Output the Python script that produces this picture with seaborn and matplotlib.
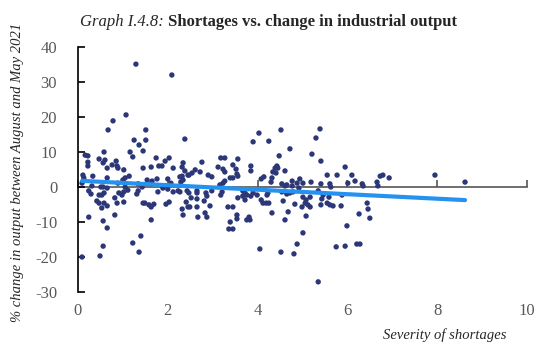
import numpy as np
import pandas as pd
import matplotlib
matplotlib.use("Agg")
import matplotlib.pyplot as plt
import seaborn as sns

# Severity of shortages (x) and % change in output between August and May 2021 (y)
severity = [
    1.29, 2.09, 1.07, 0.78, 0.67, 1.51, 1.25, 1.36, 1.51, 2.38,
    0.58, 1.16, 1.45, 1.22, 0.16, 0.22, 0.47, 0.60, 0.85, 1.74,
    2.03, 1.94, 2.34, 0.22, 0.22, 0.76, 0.65, 0.89, 1.02, 1.45,
    1.63, 1.80, 1.87, 2.12, 2.32, 4.03, 4.52, 3.90, 4.25, 4.72,
    4.48, 2.76, 3.18, 3.27, 3.56, 3.12, 3.45, 3.85, 3.52, 3.23,
    2.61, 4.39, 4.43, 4.45, 5.39, 5.30, 5.21, 5.41, 5.95, 5.55,
    5.77, 6.10, 6.73, 6.79, 6.93, 4.77, 4.94, 5.01, 5.19, 5.41,
    5.61, 5.63, 6.01, 6.17, 6.33, 6.35, 6.66, 6.68, 4.77, 4.92,
    5.35, 5.46, 5.59, 5.88, 4.72, 5.01, 5.08, 5.17, 5.06, 5.12,
    5.43, 4.83, 4.99, 5.17, 5.41, 5.55, 5.61, 5.68, 5.86, 6.44,
    6.46, 6.26, 6.50, 5.08, 5.99, 5.01, 4.88, 5.75, 5.95, 6.21,
    6.28, 4.81, 5.35, 7.95, 8.62, 3.85, 3.27, 2.38, 2.54, 2.47,
    2.72, 2.90, 2.98, 3.54, 3.56, 3.39, 3.45, 3.27, 3.23, 3.16,
    2.32, 4.34, 4.41, 4.61, 4.08, 4.14, 4.30, 4.32, 4.54, 4.61,
    4.65, 4.88, 2.43, 2.47, 2.65, 2.65, 2.85, 2.87, 2.98, 2.27,
    3.21, 3.18, 3.67, 3.72, 3.67, 3.76, 3.90, 3.85, 3.99, 4.23,
    4.21, 4.54, 4.65, 4.79, 2.41, 2.52, 2.65, 2.32, 2.49, 2.65,
    2.34, 2.81, 2.94, 2.67, 2.83, 2.87, 3.34, 3.45, 3.56, 3.72,
    4.08, 4.12, 4.19, 4.25, 4.57, 3.54, 3.54, 3.76, 3.81, 3.83,
    4.32, 4.68, 4.61, 3.39, 3.36, 3.45, 4.05, 4.52, 0.56, 2.45,
    0.11, 0.13, 0.33, 0.65, 1.00, 1.05, 1.14, 1.54, 1.65, 1.76,
    2.00, 2.07, 2.27, 2.34, 0.09, 0.31, 0.51, 0.56, 0.65, 0.89,
    1.05, 1.34, 1.43, 1.63, 1.78, 1.89, 2.00, 2.12, 2.23, 0.24,
    0.29, 0.47, 0.53, 0.58, 0.91, 0.98, 1.02, 1.11, 1.31, 1.34,
    0.82, 0.42, 0.47, 0.58, 0.65, 0.53, 0.87, 1.02, 1.45, 1.49,
    1.58, 1.63, 1.69, 1.96, 2.03, 2.45, 0.24, 0.56, 0.82, 0.65,
    1.63, 1.40, 1.22, 0.56, 1.36, 0.09, 0.49, 0.87, 2.29,
]
output_change = [
    35.1, 32.0, 20.6, 18.9, 16.3, 16.3, 13.4, 12.0, 13.4, 13.7,
    10.0, 10.0, 10.3, 8.6, 9.1, 8.9, 8.0, 7.7, 7.4, 8.3,
    8.3, 7.4, 6.9, 7.1, 6.0, 6.3, 5.4, 5.4, 4.9, 5.4,
    5.7, 6.0, 6.0, 5.4, 5.7, 15.4, 16.3, 12.9, 13.1, 10.9,
    8.9, 7.1, 8.3, 8.3, 8.0, 5.7, 6.3, 6.0, 5.1, 5.1,
    4.9, 5.4, 6.0, 5.4, 16.6, 14.0, 9.4, 7.4, 5.7, 3.4,
    3.4, 3.4, 3.1, 3.4, 2.6, 1.7, 2.3, 1.1, 1.4, 0.9,
    0.9, 0.0, 1.1, 1.7, 0.9, 0.3, 1.4, 0.3, 0.3, -0.3,
    -1.1, -2.3, -2.9, -2.3, -1.7, -2.9, -3.7, -2.9, -4.6, -5.1,
    -3.4, -4.9, -5.7, -5.7, -5.1, -4.6, -5.1, -5.4, -5.4, -4.6,
    -6.3, -7.7, -8.9, -8.3, -11.1, -13.1, -16.3, -17.1, -16.9, -16.3,
    -16.3, -19.1, -27.1, 3.4, 1.4, 4.6, 4.3, 4.6, 4.0, 3.4,
    4.3, 3.4, 2.9, 3.7, 3.1, 2.6, 2.6, 1.7, 1.1, 0.6,
    3.1, 4.3, 4.0, 4.6, 2.3, 2.9, 1.4, 2.6, 0.9, 0.3,
    0.6, 1.1, -1.1, -1.7, -1.1, -1.7, -1.7, -2.6, -1.1, -1.4,
    -1.4, -2.3, -1.1, -1.7, -2.6, -2.3, -1.7, -2.6, -2.3, -1.7,
    -2.3, -1.4, -2.0, -1.4, -4.3, -3.1, -3.4, -6.3, -5.7, -5.7,
    -8.0, -4.0, -5.4, -8.6, -7.4, -8.6, -5.7, -5.7, -3.1, -3.7,
    -3.7, -4.6, -4.6, -4.6, -4.0, -8.0, -9.1, -9.4, -8.6, -9.4,
    -7.4, -7.1, -9.4, -10.0, -12.0, -12.0, -17.7, -18.6, 6.9, 3.4,
    3.4, 2.6, 3.1, 2.6, 2.0, 2.6, 3.1, 2.0, 1.7, 2.3,
    2.3, 1.1, 2.9, 2.0, 1.1, 0.3, 0.0, 0.0, -0.3, 1.1,
    0.0, 0.9, 0.0, 0.9, -1.4, -0.3, -0.6, -1.4, -1.1, -1.1,
    -2.0, -2.3, -2.3, -1.7, -1.7, -2.3, -1.4, -0.9, -2.0, -1.1,
    -3.1, -4.0, -4.6, -4.6, -5.4, -6.0, -4.6, -4.3, -4.6, -4.6,
    -5.1, -5.7, -4.9, -4.9, -4.3, -5.7, -8.6, -9.7, -8.0, -11.7,
    -9.4, -14.0, -16.0, -16.9, -18.6, -20.0, -19.7, 6.0, 1.4,
]

y_ticks = [-30, -20, -10, 0, 10, 20, 30, 40]
x_ticks = [0, 2, 4, 6, 8, 10]

df = pd.DataFrame({"severity": severity, "change": output_change})

sns.set_theme(style="white")
plt.rcParams["font.family"] = ["Liberation Serif", "DejaVu Serif"]
plt.rcParams["axes.unicode_minus"] = False

fig = plt.figure(figsize=(5.42, 3.45), dpi=100)
ax = fig.add_axes([0.1439, 0.1536, 0.8284, 0.7102])

sns.regplot(
    data=df, x="severity", y="change", ax=ax, ci=None,
    scatter_kws=dict(s=15, color="#2c3778", edgecolor="none", alpha=1),
    line_kws=dict(color="#2592f0", lw=3.0),
)

ax.set_xlim(0, 10)
ax.set_ylim(-30, 40)
ax.set_xticks(x_ticks)
ax.set_yticks(y_ticks)
ax.set_xlabel("")
ax.set_ylabel("")

for side in ("top", "right", "bottom"):
    ax.spines[side].set_visible(False)
ax.spines["left"].set_color("black")
ax.spines["left"].set_linewidth(1.2)

ax.tick_params(axis="y", direction="in", length=5, width=1.2, color="black",
               labelsize=12, labelcolor="#595959", pad=15, left=True)
ax.tick_params(axis="x", length=0, labelsize=12, labelcolor="#595959", pad=8,
               bottom=True)

# zero line carrying the x ticks
zero_axis = ax.secondary_xaxis(30 / 70)
zero_axis.set_xticks(x_ticks)
zero_axis.tick_params(direction="in", length=5, width=1.2, color="#555555",
                      labelbottom=False, labeltop=False)
zero_axis.spines["bottom"].set_color("#555555")
zero_axis.spines["bottom"].set_linewidth(1.2)
zero_axis.set_xticklabels([])

fig.text(0.033, 0.50, "% change in output between August and May 2021",
         rotation=90, ha="center", va="center", fontsize=10.5,
         fontstyle="italic")
fig.text(0.82, 0.03, "Severity of shortages", ha="center", va="center",
         fontsize=10.5, fontstyle="italic")

# two-part title (italic label + bold heading), centred as a whole
title_y = 0.925
t1 = fig.text(0, title_y, "Graph I.4.8: ", fontsize=12, fontstyle="italic")
t2 = fig.text(0, title_y, "Shortages vs. change in industrial output",
              fontsize=12, fontweight="bold")
fig.canvas.draw()
renderer = fig.canvas.get_renderer()
w1 = t1.get_window_extent(renderer).width / fig.bbox.width
w2 = t2.get_window_extent(renderer).width / fig.bbox.width
x0 = 0.496 - (w1 + w2) / 2
t1.set_x(x0)
t2.set_x(x0 + w1)

fig.savefig("out.png", dpi=100)
